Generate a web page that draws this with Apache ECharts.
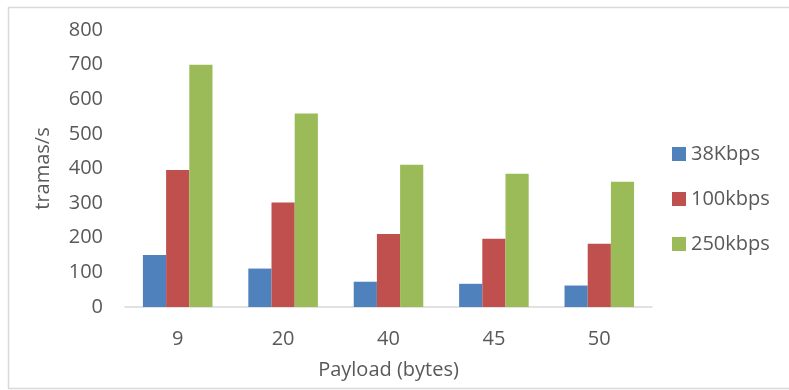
<!DOCTYPE html>
<html>
<head>
<meta charset="utf-8">
<script src="https://cdn.jsdelivr.net/npm/echarts@6/dist/echarts.min.js"></script>
<style>
  html, body { margin: 0; padding: 0; background: #fff; }
  #chart { width: 789px; height: 390px; }
</style>
</head>
<body>
<div id="chart"></div>
<script>
// Frame rate (frames per second) by payload size, for three bit rates
const payloads = ['9', '20', '40', '45', '50'];
const rate38k = [150, 111, 73, 67, 62];
const rate100k = [396, 302, 211, 197, 183];
const rate250k = [700, 559, 411, 385, 362];
const seriesNames = ['38Kbps', '100kbps', '250kbps'];
const yTicks = { min: 0, max: 800, interval: 100 };

const textColor = '#595959';
const fontFamily = '"Open Sans", "Noto Sans", sans-serif';
const colors = ['#4F81BD', '#C0504D', '#9BBB59'];

const chart = echarts.init(document.getElementById('chart'), null, { renderer: 'canvas' });

const barSeries = [rate38k, rate100k, rate250k].map((values, i) => ({
  name: seriesNames[i],
  type: 'bar',
  data: values,
  barGap: '0%',
  barCategoryGap: '34%',
  itemStyle: { color: colors[i] },
  emphasis: { disabled: true }
}));

chart.setOption({
  animation: false,
  backgroundColor: '#fff',
  textStyle: { fontFamily: fontFamily, color: textColor },
  graphic: [{
    type: 'rect',
    shape: { x: 8.5, y: 7.5, width: 800, height: 381 },
    style: { fill: 'none', stroke: '#D9D9D9', lineWidth: 1.5 },
    silent: true,
    z: -1
  }],
  grid: { left: 125, right: 137, top: 30, bottom: 83, containLabel: false, outerBoundsMode: 'none' },
  legend: {
    orient: 'vertical',
    left: 667,
    top: 139,
    itemWidth: 14,
    itemHeight: 14,
    itemGap: 25,
    icon: 'rect',
    textStyle: { fontSize: 20, color: textColor, fontFamily: fontFamily },
    data: seriesNames
  },
  xAxis: {
    type: 'category',
    data: payloads,
    name: 'Payload (bytes)',
    nameLocation: 'middle',
    nameGap: 53,
    nameTextStyle: { fontSize: 20, color: textColor, fontFamily: fontFamily },
    axisLine: { lineStyle: { color: '#D9D9D9', width: 1.5 } },
    axisTick: { show: false },
    axisLabel: { fontSize: 20, color: textColor, margin: 22, fontFamily: fontFamily }
  },
  yAxis: {
    type: 'value',
    min: yTicks.min,
    max: yTicks.max,
    interval: yTicks.interval,
    name: 'tramas/s',
    nameLocation: 'middle',
    nameGap: 72,
    nameRotate: 90,
    nameTextStyle: { fontSize: 20, color: textColor, fontFamily: fontFamily },
    axisLine: { show: false },
    axisTick: { show: false },
    splitLine: { show: false },
    axisLabel: { fontSize: 20, color: textColor, margin: 22, fontFamily: fontFamily }
  },
  series: barSeries
});
</script>
</body>
</html>
